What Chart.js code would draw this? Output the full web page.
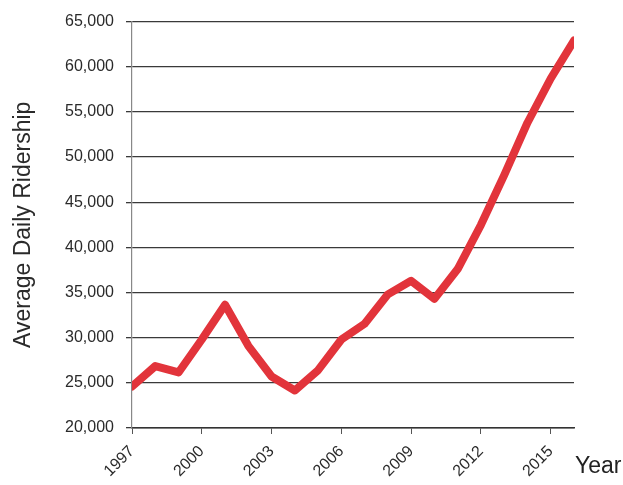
<!DOCTYPE html>
<html lang="en">
<head>
    <meta charset="UTF-8">
    <title>Average Daily Ridership</title>
    <script src="https://cdn.jsdelivr.net/npm/chart.js"></script>
    <style>
        body { margin: 0; background: #ffffff; }
        #wrap { width: 623px; height: 485px; }
    </style>
</head>
<body>
    <div id="wrap"><canvas id="ridershipChart" width="623" height="485"></canvas></div>

    <script>
        // values
        const years = [1997, 1998, 1999, 2000, 2001, 2002, 2003, 2004, 2005, 2006,
                       2007, 2008, 2009, 2010, 2011, 2012, 2013, 2014, 2015, 2016];
        const ridership = [24600, 26850, 26150, 29800, 33650, 29100, 25700, 24150, 26400, 29800,
                           31550, 34800, 36300, 34300, 37600, 42500, 48000, 53800, 58700, 62900];
        const xTicks = [1997, 2000, 2003, 2006, 2009, 2012, 2015];
        const yTicks = [20000, 25000, 30000, 35000, 40000, 45000, 50000, 55000, 60000, 65000];

        const points = years.map((yr, i) => ({ x: yr, y: ridership[i] }));

        // "Year" sits to the right of the rotated tick labels
        const yearLabel = {
            id: 'yearLabel',
            afterDraw(chart) {
                const ctx = chart.ctx;
                ctx.save();
                ctx.font = '23px "Liberation Sans", Arial, sans-serif';
                ctx.fillStyle = '#222';
                ctx.textAlign = 'left';
                ctx.textBaseline = 'alphabetic';
                ctx.fillText('Year', 575, 473);
                ctx.restore();
            }
        };

        new Chart(document.getElementById('ridershipChart'), {
            type: 'line',
            data: {
                datasets: [{
                    data: points,
                    borderColor: '#e2343b',
                    borderWidth: 8,
                    borderJoinStyle: 'round',
                    borderCapStyle: 'round',
                    pointRadius: 0,
                    tension: 0,
                    fill: false
                }]
            },
            options: {
                responsive: false,
                animation: false,
                layout: { padding: { top: 15, right: 49, left: 0, bottom: 0 } },
                plugins: { legend: { display: false }, tooltip: { enabled: false } },
                scales: {
                    x: {
                        type: 'linear',
                        min: years[0],
                        max: years[years.length - 1],
                        afterFit: s => { s.height = 57; },
                        afterBuildTicks: s => { s.ticks = xTicks.map(v => ({ value: v })); },
                        ticks: {
                            minRotation: 45,
                            maxRotation: 45,
                            padding: 8,
                            color: '#2a2a2a',
                            font: { family: '"Liberation Sans", Arial, sans-serif', size: 16 },
                            callback: v => String(v)
                        },
                        grid: {
                            drawOnChartArea: false,
                            drawTicks: true,
                            tickLength: 6,
                            tickColor: '#555'
                        },
                        border: { color: '#333', width: 1.5 }
                    },
                    y: {
                        min: yTicks[0],
                        max: yTicks[yTicks.length - 1],
                        afterFit: s => { s.width = 132; },
                        afterBuildTicks: s => { s.ticks = yTicks.map(v => ({ value: v })); },
                        ticks: {
                            padding: 12,
                            color: '#2a2a2a',
                            font: { family: '"Liberation Sans", Arial, sans-serif', size: 16 },
                            callback: v => v.toLocaleString('en-US')
                        },
                        grid: {
                            color: '#3a3a3a',
                            lineWidth: 1.3,
                            tickLength: 6
                        },
                        border: { color: '#888', width: 1.2 },
                        title: {
                            display: true,
                            text: 'Average Daily Ridership',
                            color: '#2a2a2a',
                            font: { family: '"Liberation Sans", Arial, sans-serif', size: 23 },
                            padding: { top: 10, bottom: 0 }
                        }
                    }
                }
            },
            plugins: [yearLabel]
        });
    </script>
</body>
</html>
